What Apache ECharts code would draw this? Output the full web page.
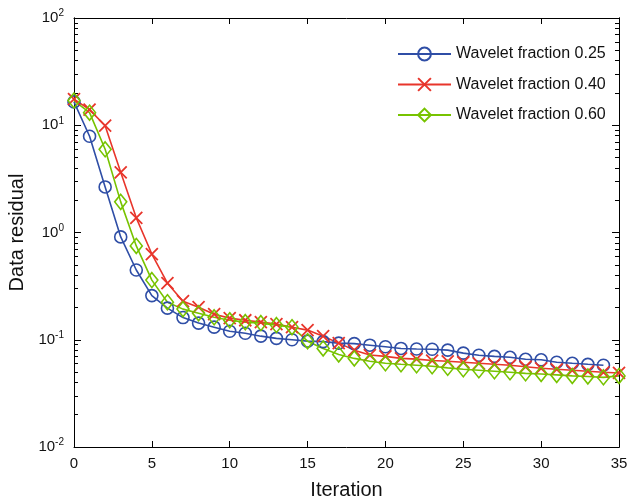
<!DOCTYPE html>
<html>
<head>
<meta charset="utf-8">
<script src="https://cdn.jsdelivr.net/npm/echarts@6/dist/echarts.min.js"></script>
<style>
html,body{margin:0;padding:0;background:#fff;}
#chart{width:628px;height:498px;}
</style>
</head>
<body>
<div id="chart"></div>
<script>
const iterations = [0,1,2,3,4,5,6,7,8,9,10,11,12,13,14,15,16,17,18,19,20,21,22,23,24,25,26,27,28,29,30,31,32,33,34,35];
const seriesNames = ['Wavelet fraction 0.25','Wavelet fraction 0.40','Wavelet fraction 0.60'];
const wf025 = [16.5,7.9,2.66,0.91,0.447,0.258,0.197,0.161,0.143,0.131,0.120,0.115,0.108,0.103,0.100,0.097,0.096,0.093,0.092,0.089,0.086,0.083,0.082,0.0815,0.080,0.075,0.0717,0.070,0.0686,0.0657,0.065,0.0617,0.0603,0.059,0.0578];
const wf040 = [17.5,14.0,9.9,3.64,1.37,0.63,0.337,0.229,0.201,0.173,0.159,0.152,0.146,0.140,0.131,0.123,0.108,0.093,0.080,0.072,0.070,0.067,0.066,0.064,0.063,0.0617,0.0603,0.059,0.0578,0.056,0.0542,0.053,0.0519,0.0508,0.0497,0.049];
const wf060 = [17,13.1,5.97,1.93,0.75,0.36,0.224,0.193,0.177,0.162,0.152,0.146,0.143,0.137,0.131,0.097,0.083,0.073,0.067,0.063,0.0603,0.059,0.0578,0.0566,0.0547,0.053,0.0519,0.0508,0.0497,0.0486,0.048,0.047,0.046,0.0455,0.0446,0.046];
const yMinorMultipliers = [2,3,4,5,6,7,8,9];

const FONT = 'Liberation Sans, Arial, sans-serif';
const minorLogValues = [];
for (let e = -2; e < 2; e++) {
  yMinorMultipliers.forEach(m => minorLogValues.push(e + Math.log10(m)));
}

function pairs(vals) { return vals.map((v, i) => [iterations[i], v]); }

const chart = echarts.init(document.getElementById('chart'), null, {renderer: 'canvas'});

const axisLine = {show: true, onZero: false, lineStyle: {color: '#000', width: 1}};

const option = {
  backgroundColor: '#fff',
  animation: false,
  grid: {left: 74, right: 9, top: 18, bottom: 51, containLabel: false, outerBoundsMode: 'none'},
  legend: {
    orient: 'vertical',
    left: 397,
    top: 46,
    padding: 0,
    itemWidth: 53,
    itemHeight: 16,
    itemGap: 14.5,
    data: seriesNames,
    textStyle: {fontFamily: FONT, fontSize: 16, color: '#111'}
  },
  xAxis: [
    {
      type: 'value', min: 0, max: 35, interval: 5, position: 'bottom',
      axisLine: axisLine,
      axisTick: {show: true, inside: true, length: 6, lineStyle: {color: '#000'}},
      axisLabel: {show: true, margin: 9, fontFamily: FONT, fontSize: 15, color: '#111'},
      splitLine: {show: false},
      name: 'Iteration', nameLocation: 'middle', nameGap: 33,
      nameTextStyle: {fontFamily: FONT, fontSize: 20, color: '#111'}
    },
    {
      type: 'value', min: 0, max: 35, interval: 5, position: 'top',
      axisLine: axisLine,
      axisTick: {show: true, inside: true, length: 6, lineStyle: {color: '#000'}},
      axisLabel: {show: false},
      splitLine: {show: false}
    }
  ],
  yAxis: [
    {
      type: 'log', logBase: 10, min: 0.01, max: 100, position: 'left',
      axisLine: axisLine,
      axisTick: {show: true, inside: true, length: 7, lineStyle: {color: '#000'}},
      axisLabel: {
        show: true, margin: 10, fontFamily: FONT, color: '#111',
        formatter: function (v) {
          const e = Math.round(Math.log10(v));
          return '{b|10}{s|' + e + '}';
        },
        rich: {
          b: {fontFamily: FONT, fontSize: 15, color: '#111'},
          s: {fontFamily: FONT, fontSize: 10, color: '#111', padding: [0, 0, 9, 0]}
        }
      },
      splitLine: {show: false},
      name: 'Data residual', nameLocation: 'middle', nameGap: 43,
      nameTextStyle: {fontFamily: FONT, fontSize: 20, color: '#111'}
    },
    {
      type: 'value', min: -2, max: 2, position: 'left',
      axisLine: axisLine,
      axisTick: {show: true, inside: true, length: 4, lineStyle: {color: '#000'}, customValues: minorLogValues},
      axisLabel: {show: false},
      splitLine: {show: false}
    },
    {
      type: 'log', logBase: 10, min: 0.01, max: 100, position: 'right',
      axisLine: axisLine,
      axisTick: {show: true, inside: true, length: 7, lineStyle: {color: '#000'}},
      axisLabel: {show: false},
      splitLine: {show: false}
    },
    {
      type: 'value', min: -2, max: 2, position: 'right',
      axisLine: axisLine,
      axisTick: {show: true, inside: true, length: 4, lineStyle: {color: '#000'}, customValues: minorLogValues},
      axisLabel: {show: false},
      splitLine: {show: false}
    }
  ],
  series: [
    {
      name: seriesNames[0], type: 'line', xAxisIndex: 0, yAxisIndex: 0,
      data: pairs(wf025), color: '#2f4ea6',
      symbol: 'circle', symbolSize: 12,
      lineStyle: {color: '#2f4ea6', width: 1.6},
      itemStyle: {color: 'rgba(255,255,255,0)', borderColor: '#2f4ea6', borderWidth: 1.6}
    },
    {
      name: seriesNames[1], type: 'line', xAxisIndex: 0, yAxisIndex: 0,
      data: pairs(wf040), color: '#e8352b',
      symbol: 'path://M0,0L10,10M10,0L0,10', symbolSize: 12,
      lineStyle: {color: '#e8352b', width: 1.6},
      itemStyle: {color: 'rgba(255,255,255,0)', borderColor: '#e8352b', borderWidth: 1.8}
    },
    {
      name: seriesNames[2], type: 'line', xAxisIndex: 0, yAxisIndex: 0,
      data: pairs(wf060), color: '#77c300',
      symbol: 'diamond', symbolSize: [12, 15],
      lineStyle: {color: '#77c300', width: 1.6},
      itemStyle: {color: 'rgba(255,255,255,0)', borderColor: '#77c300', borderWidth: 1.6}
    }
  ]
};
chart.setOption(option);
</script>
</body>
</html>
